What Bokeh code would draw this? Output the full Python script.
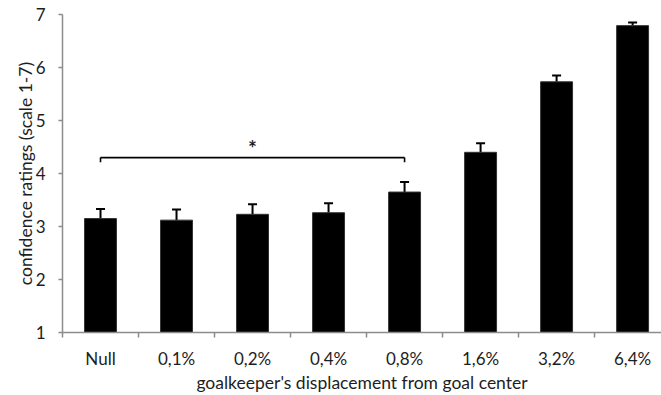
import numpy as np
from bokeh.plotting import figure
from bokeh.models import (ColumnDataSource, Range1d, FixedTicker, Whisker, TeeHead)
from bokeh.core.properties import value
from bokeh.embed import file_html
from bokeh.resources import INLINE

# Displacement conditions and mean confidence ratings (scale 1-7)
categories = ["Null", "0,1%", "0,2%", "0,4%", "0,8%", "1,6%", "3,2%", "6,4%"]
means = [3.15, 3.12, 3.23, 3.26, 3.65, 4.40, 5.73, 6.79]
sem = [0.18, 0.20, 0.19, 0.18, 0.19, 0.17, 0.12, 0.06]

# Significance bracket: spans from the first to the fifth condition
bracket_from, bracket_to = 0, 4
bracket_level = 4.30
bracket_drop = 0.09
star_level = 4.50

FONT = "Lato"
TEXT = "#1e1e1e"
GRID = "#8c8c8c"

x = np.arange(len(categories)) + 0.5
upper = [m + s for m, s in zip(means, sem)]

src = ColumnDataSource(dict(x=x, top=means, upper=upper, lower=means))

p = figure(width=661, height=395, output_backend="svg", toolbar_location=None,
           x_range=Range1d(0, 7.88), y_range=Range1d(1, 7),
           min_border_left=62, min_border_right=0, min_border_top=14,
           min_border_bottom=62)
p.outline_line_color = None
p.xgrid.visible = False
p.ygrid.visible = False
p.background_fill_color = "white"
p.border_fill_color = "white"

p.vbar(x="x", top="top", bottom=1, width=0.42, source=src,
       fill_color="black", line_color="#333333", line_width=1)

p.add_layout(Whisker(base="x", upper="upper", lower="lower", source=src,
                     line_color="black", line_width=2,
                     upper_head=TeeHead(size=9, line_color="black", line_width=2),
                     lower_head=None))

# bracket
bx0, bx1 = x[bracket_from], x[bracket_to]
p.segment(x0=[bx0, bx0, bx1], y0=[bracket_level, bracket_level, bracket_level],
          x1=[bx1, bx0, bx1], y1=[bracket_level, bracket_level - bracket_drop,
                                  bracket_level - bracket_drop],
          line_color="black", line_width=1.6)
p.text(x=[(bx0 + bx1) / 2], y=[star_level], text=["*"],
       text_align="center", text_baseline="middle",
       text_font=value(FONT), text_font_size="21px", text_font_style="bold",
       text_color=TEXT)

# x axis: labels at category centres, tick marks at boundaries
xa = p.xaxis[0]
xa.ticker = FixedTicker(ticks=list(x), minor_ticks=list(np.arange(0, len(categories) + 1)))
xa.major_label_overrides = {float(v): c for v, c in zip(x, categories)}
xa.major_tick_out = 0
xa.major_tick_in = 0
xa.minor_tick_out = 5
xa.minor_tick_in = 0
xa.minor_tick_line_color = GRID
xa.minor_tick_line_width = 1.5
xa.axis_line_color = GRID
xa.axis_line_width = 1.5
xa.major_label_standoff = 10
xa.major_label_text_font = FONT
xa.major_label_text_font_size = "17px"
xa.major_label_text_color = TEXT
xa.axis_label = "goalkeeper's displacement from goal center"
xa.axis_label_text_font = FONT
xa.axis_label_text_font_style = "normal"
xa.axis_label_text_font_size = "17.5px"
xa.axis_label_text_color = TEXT
xa.axis_label_standoff = 0

ya = p.yaxis[0]
ya.ticker = FixedTicker(ticks=[1, 2, 3, 4, 5, 6, 7])
ya.minor_tick_out = 0
ya.minor_tick_in = 0
ya.major_tick_out = 4
ya.major_tick_in = 0
ya.major_tick_line_color = GRID
ya.major_tick_line_width = 1.5
ya.axis_line_color = GRID
ya.axis_line_width = 1.5
ya.major_label_standoff = 13
ya.major_label_text_font = FONT
ya.major_label_text_font_size = "17px"
ya.major_label_text_color = TEXT
ya.axis_label = "confidence ratings (scale 1-7)"
ya.axis_label_text_font = FONT
ya.axis_label_text_font_style = "normal"
ya.axis_label_text_font_size = "17.5px"
ya.axis_label_text_color = TEXT
ya.axis_label_standoff = -3

open("out.html", "w").write(file_html(p, INLINE))
